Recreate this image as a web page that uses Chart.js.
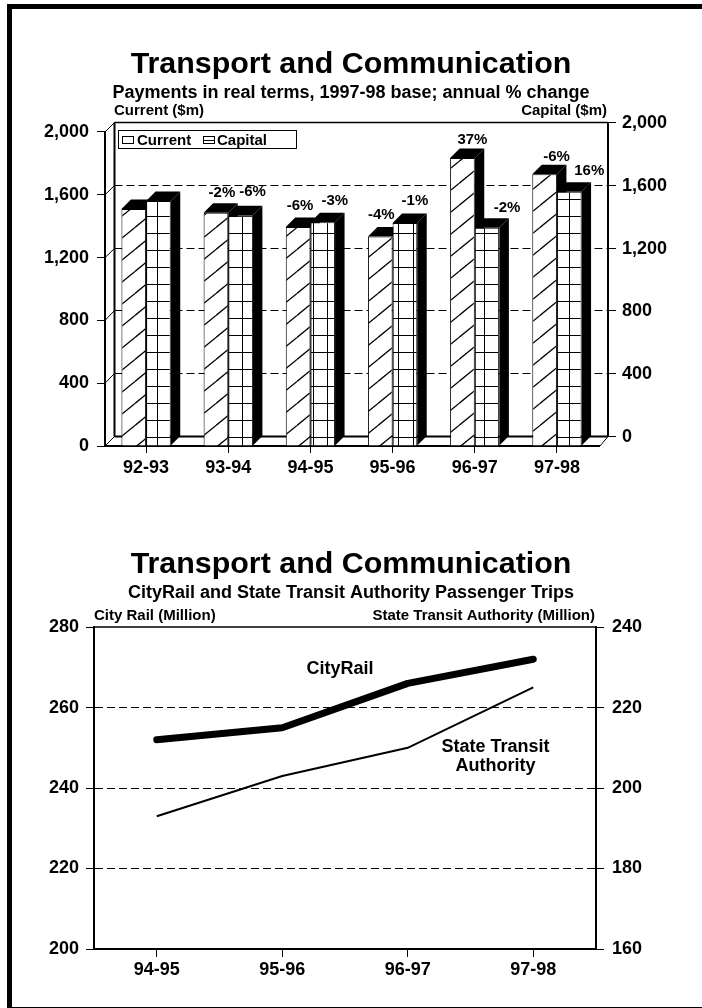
<!DOCTYPE html>
<html>
<head>
<meta charset="utf-8">
<title>Transport and Communication</title>
<script src="https://cdn.jsdelivr.net/npm/chart.js@4"></script>
<style>
  html, body { margin: 0; padding: 0; background: #fff; }
  body { position: relative; width: 702px; height: 1008px; overflow: hidden; }
  canvas { position: absolute; left: 0; }
  #payments { top: 0; }
  #trips { top: 520px; }
  .frame { position: absolute; background: #000; }
</style>
</head>
<body>
<div class="frame" style="left:7px;top:4px;width:695px;height:5px"></div>
<div class="frame" style="left:7px;top:4px;width:5px;height:1004px"></div>
<div class="frame" style="left:7px;top:1007px;width:695px;height:1px"></div>
<canvas id="payments" width="702" height="520"></canvas>
<canvas id="trips" width="702" height="488"></canvas>
<script>
const years = ["92-93", "93-94", "94-95", "95-96", "96-97", "97-98"];
const currentPayments = [1510, 1485, 1395, 1335, 1835, 1730];
const capitalPayments = [1560, 1470, 1425, 1420, 1390, 1620];
const currentChange = ["", "-2%", "-6%", "-4%", "37%", "-6%"];
const capitalChange = ["", "-6%", "-3%", "-1%", "-2%", "16%"];
const paymentTicks = [0, 400, 800, 1200, 1600, 2000];

const tripYears = ["94-95", "95-96", "96-97", "97-98"];
const cityRailTrips = [252, 255, 266, 272];
const stateTransitTrips = [193, 203, 210, 225];

const FONT = "'Liberation Sans', Arial, sans-serif";
const DEPTH_X = 9.5;
const DEPTH_Y = 9.5;

// label offsets from the top centre of each bar
const currentNudge = [[0, 0], [6, -20], [2, -21], [1, -22], [10, -18], [12, -18]];
const capitalNudge = [[0, 0], [12, -23], [12, -21], [10, -22], [20, -20], [20, -21]];

function bold(size) {
  return { family: FONT, size: size, weight: "bold" };
}

function hatchPattern() {
  const tile = document.createElement("canvas");
  tile.width = 27;
  tile.height = 22;
  const c = tile.getContext("2d");
  c.fillStyle = "#fff";
  c.fillRect(0, 0, 27, 22);
  c.strokeStyle = "#000";
  c.lineWidth = 1.3;
  [-22, 0, 22].forEach((off) => {
    c.beginPath();
    c.moveTo(0, 7.4 + off);
    c.lineTo(27, 7.4 + off - 22);
    c.stroke();
  });
  return c.createPattern(tile, "repeat");
}

function gridPattern() {
  const tile = document.createElement("canvas");
  tile.width = 71;
  tile.height = 17;
  const c = tile.getContext("2d");
  c.fillStyle = "#fff";
  c.fillRect(0, 0, 71, 17);
  c.fillStyle = "#000";
  [1, 15, 29, 43, 58].forEach((x) => c.fillRect(x, 0, 1, 17));
  c.fillRect(0, 12, 71, 1);
  return c.createPattern(tile, "repeat");
}

function line(ctx, x1, y1, x2, y2, width) {
  ctx.lineWidth = width;
  ctx.beginPath();
  ctx.moveTo(x1, y1);
  ctx.lineTo(x2, y2);
  ctx.stroke();
}

function poly(ctx, pts) {
  ctx.beginPath();
  pts.forEach((p, i) => (i ? ctx.lineTo(p[0], p[1]) : ctx.moveTo(p[0], p[1])));
  ctx.closePath();
  ctx.fill();
}

function text(ctx, str, x, y, size, align) {
  ctx.font = "bold " + size + "px " + FONT;
  ctx.fillStyle = "#000";
  ctx.textAlign = align;
  ctx.textBaseline = "middle";
  ctx.fillText(str, x, y);
}

// back wall, floor and the black sides of the bars
const boxPlugin = {
  id: "box3d",
  beforeDatasetsDraw(chart) {
    const { ctx, scales, chartArea } = chart;
    const y = scales.y;
    const bx = chartArea.left + DEPTH_X;
    const rx = chartArea.right + DEPTH_X + 0.5;
    const base = y.getPixelForValue(0);
    ctx.save();
    ctx.strokeStyle = "#000";
    paymentTicks.forEach((v) => {
      const py = y.getPixelForValue(v);
      const wy = Math.floor(py - DEPTH_Y) + 0.5;
      line(ctx, chartArea.left, py, bx, wy, 1);
      line(ctx, rx, wy, rx + 8, wy, 1);
      if (v > 0 && v < 2000) {
        ctx.setLineDash([8, 4]);
        line(ctx, bx, wy, rx, wy, 1);
        ctx.setLineDash([]);
      }
    });
    const top = y.getPixelForValue(2000) - DEPTH_Y;
    line(ctx, bx, top, rx, top, 1.5);
    line(ctx, bx, top, bx, base - DEPTH_Y, 2);
    line(ctx, rx, top, rx, base - DEPTH_Y, 2);
    line(ctx, bx, base - DEPTH_Y, rx, base - DEPTH_Y, 2);
    line(ctx, chartArea.right, base, chartArea.right + 2, base, 2);
    line(ctx, chartArea.right + 2, base, rx, base - DEPTH_Y, 1);
    line(ctx, chartArea.left, base, bx, base - DEPTH_Y, 1);

    ctx.fillStyle = "#000";
    chart.data.datasets.forEach((ds, i) => {
      chart.getDatasetMeta(i).data.forEach((bar) => {
        const x0 = bar.x - bar.width / 2;
        const x1 = bar.x + bar.width / 2;
        poly(ctx, [[x0, bar.y], [x0 + DEPTH_X, bar.y - DEPTH_Y], [x1 + DEPTH_X, bar.y - DEPTH_Y], [x1, bar.y]]);
        poly(ctx, [[x1, bar.y], [x1 + DEPTH_X, bar.y - DEPTH_Y], [x1 + DEPTH_X, bar.base - DEPTH_Y], [x1, bar.base]]);
      });
    });
    ctx.restore();
  },
  afterDatasetsDraw(chart) {
    const ctx = chart.ctx;
    ctx.save();
    [[currentChange, currentNudge], [capitalChange, capitalNudge]].forEach((set, i) => {
      chart.getDatasetMeta(i).data.forEach((bar, j) => {
        if (set[0][j]) text(ctx, set[0][j], bar.x + set[1][j][0], bar.y + set[1][j][1], 15, "center");
      });
    });

    // legend
    ctx.fillStyle = "#fff";
    ctx.strokeStyle = "#000";
    ctx.lineWidth = 1;
    ctx.fillRect(118.5, 130.5, 178, 18);
    ctx.strokeRect(118.5, 130.5, 178, 18);
    ctx.strokeRect(122.5, 136.5, 11, 7);
    ctx.strokeRect(203.5, 136.5, 11, 7);
    line(ctx, 203.5, 140.5, 214.5, 140.5, 1);
    text(ctx, chart.data.datasets[0].label, 137, 140.5, 15, "left");
    text(ctx, chart.data.datasets[1].label, 217, 140.5, 15, "left");

    text(ctx, "Current ($m)", 114, 110.5, 15, "left");
    text(ctx, "Capital ($m)", 607, 110.5, 15, "right");
    ctx.restore();
  },
};

const tripsPlugin = {
  id: "tripsText",
  afterDatasetsDraw(chart) {
    const { ctx, scales, chartArea } = chart;
    ctx.save();
    ctx.strokeStyle = "#000";
    line(ctx, chartArea.left, chartArea.top, chartArea.right, chartArea.top, 1.5);
    const at = (i, v) => [scales.x.getPixelForValue(i), scales.y.getPixelForValue(v)];
    let p = at(1.46, 269.55);
    text(ctx, "CityRail", p[0], p[1], 18, "center");
    p = at(2.7, 250.25);
    text(ctx, "State Transit", p[0], p[1], 18, "center");
    p = at(2.7, 245.55);
    text(ctx, "Authority", p[0], p[1], 18, "center");
    text(ctx, "City Rail (Million)", 94, 96, 15, "left");
    text(ctx, "State Transit Authority (Million)", 595, 96, 15, "right");
    ctx.restore();
  },
};

function fixedWidth(w) {
  return (scale) => { scale.width = w; };
}
function fixedHeight(h) {
  return (scale) => { scale.height = h; };
}

Chart.defaults.animation = false;
Chart.defaults.color = "#000";

new Chart(document.getElementById("payments"), {
  type: "bar",
  data: {
    labels: years,
    datasets: [
      { label: "Current", data: currentPayments, backgroundColor: hatchPattern(), borderColor: "#000", borderWidth: 1 },
      { label: "Capital", data: capitalPayments, backgroundColor: gridPattern(), borderColor: "#000", borderWidth: 1 },
    ],
  },
  options: {
    responsive: false,
    categoryPercentage: 0.6,
    barPercentage: 1,
    plugins: {
      legend: { display: false },
      tooltip: { enabled: false },
      title: {
        display: true,
        text: "Transport and Communication",
        font: bold(30.4),
        color: "#000",
        padding: { top: 46, bottom: 0 },
      },
      subtitle: {
        display: true,
        text: "Payments in real terms, 1997-98 base; annual % change",
        font: bold(18),
        color: "#000",
        padding: { top: 0, bottom: 27.9 },
      },
    },
    scales: {
      x: {
        afterFit: fixedHeight(74),
        grid: { offset: false, drawOnChartArea: false, tickLength: 7, tickColor: "#000" },
        border: { color: "#000", width: 2 },
        ticks: { font: bold(18), padding: 4, maxRotation: 0 },
      },
      y: {
        min: 0,
        max: 2000,
        afterFit: fixedWidth(105),
        afterBuildTicks: (scale) => { scale.ticks = paymentTicks.map((v) => ({ value: v })); },
        grid: { drawOnChartArea: false, tickLength: 8, tickColor: "#000" },
        border: { color: "#000", width: 2 },
        ticks: { font: bold(18), padding: 8, callback: (v) => v.toLocaleString("en-US") },
      },
      y2: {
        position: "right",
        min: 0,
        max: 2000,
        afterFit: fixedWidth(104),
        afterBuildTicks: (scale) => { scale.ticks = paymentTicks.map((v) => ({ value: v })); },
        grid: { display: false, drawTicks: false },
        border: { display: false },
        ticks: { font: bold(18), padding: 24, labelOffset: -9, callback: (v) => v.toLocaleString("en-US") },
      },
    },
  },
  plugins: [boxPlugin],
});

new Chart(document.getElementById("trips"), {
  type: "line",
  data: {
    labels: tripYears,
    datasets: [
      {
        label: "CityRail",
        data: cityRailTrips,
        yAxisID: "y",
        borderColor: "#000",
        borderWidth: 7,
        borderCapStyle: "round",
        borderJoinStyle: "round",
        pointRadius: 0,
        tension: 0,
      },
      {
        label: "State Transit Authority",
        data: stateTransitTrips,
        yAxisID: "y2",
        borderColor: "#000",
        borderWidth: 2,
        pointRadius: 0,
        tension: 0,
      },
    ],
  },
  options: {
    responsive: false,
    plugins: {
      legend: { display: false },
      tooltip: { enabled: false },
      title: {
        display: true,
        text: "Transport and Communication",
        font: bold(30.4),
        color: "#000",
        padding: { top: 26, bottom: 0 },
      },
      subtitle: {
        display: true,
        text: "CityRail and State Transit Authority Passenger Trips",
        font: bold(18),
        color: "#000",
        padding: { top: 0, bottom: 23 },
      },
    },
    scales: {
      x: {
        offset: true,
        afterFit: fixedHeight(59),
        grid: { offset: false, drawOnChartArea: false, tickLength: 8, tickColor: "#000" },
        border: { color: "#000", width: 2 },
        ticks: { font: bold(18), padding: 2, maxRotation: 0 },
      },
      y: {
        min: 200,
        max: 280,
        afterFit: fixedWidth(94),
        grid: {
          tickLength: 8,
          tickColor: "#000",
          color: (c) => (c.tick && (c.tick.value === 200 || c.tick.value === 280) ? "rgba(0,0,0,0)" : "#000"),
        },
        border: { color: "#000", width: 2, dash: [8, 4] },
        ticks: { font: bold(18), padding: 7, stepSize: 20 },
      },
      y2: {
        position: "right",
        min: 160,
        max: 240,
        afterFit: fixedWidth(106),
        grid: { drawOnChartArea: false, tickLength: 8, tickColor: "#000" },
        border: { color: "#000", width: 2 },
        ticks: { font: bold(18), padding: 8, stepSize: 20 },
      },
    },
  },
  plugins: [tripsPlugin],
});
</script>
</body>
</html>
